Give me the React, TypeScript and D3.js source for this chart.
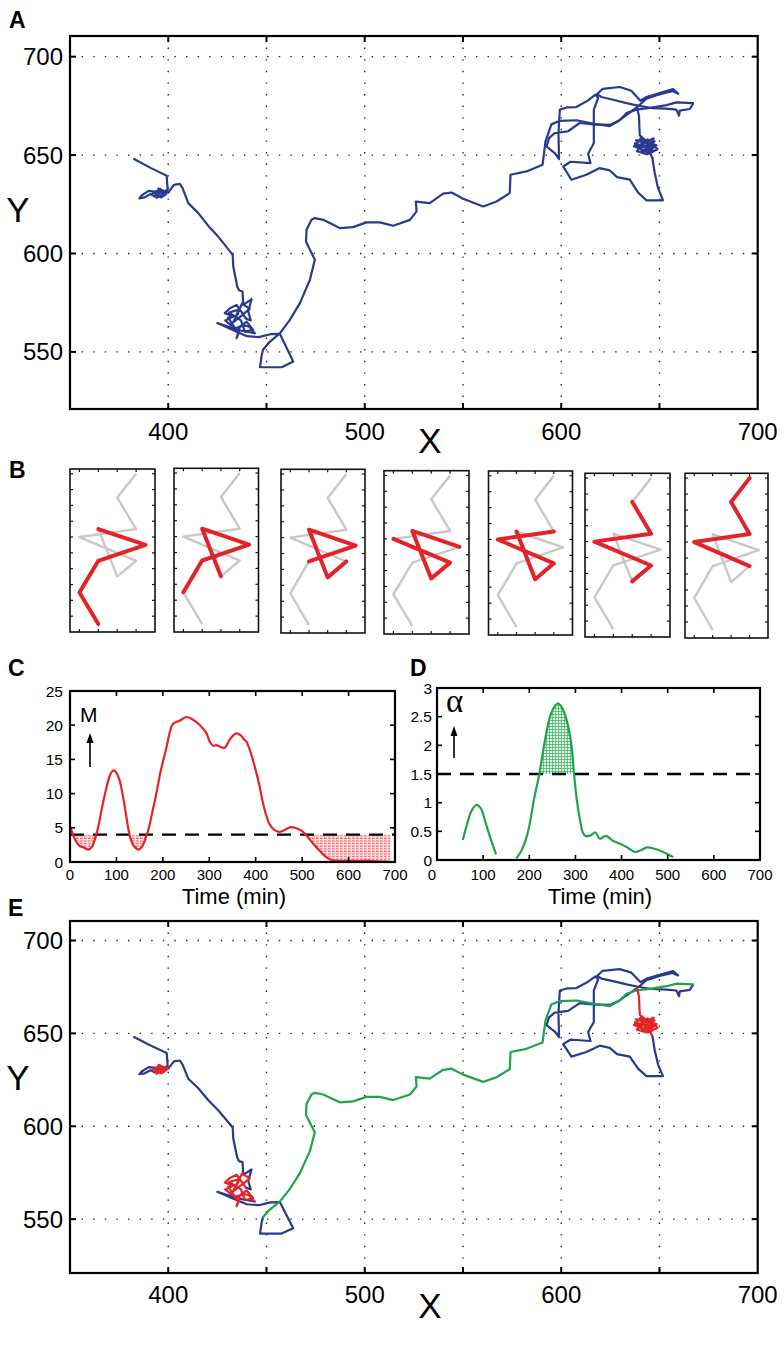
import React from 'react';
import * as d3 from 'd3';

// ---------------- DATA ----------------
// Trajectory pieces (x, y in pixel-units of the microscope field)
const startTrack = [[382.6,648.0],[391,643.5],[399.2,639.5],[399.7,632.4],[397,631],[390,631.8],[386.5,629.5],[385.3,628],[388,628.5],[391,630.2],[393,629]];
const confined1 = [[393,629],[395,631.5],[392,630.5],[396,632.8],[394,628.3],[397.5,630],[395,633],[398.5,631.5],[393.5,629.8],[396.5,628.5],[399,630.2],[397,632],[400,631]];
const track2 = [[400,631],[402.9,634.9],[405.9,635.4],[407.3,633.2],[410.2,625.6],[415.3,620.5],[420.4,614.0],[425.4,608.6],[429.4,603.6],[432.8,599.3],[433.1,593.4],[435.1,583.2],[436.1,581.2],[437.8,580.7],[438.2,573.9],[442.4,576.8],[440.7,570.5],[442,566],[439.5,567]];
const confined2 = [[439.5,567],[434.8,573.9],[431.4,572.2],[428.8,569.7],[433.1,568],[429,566],[432.5,563],[436,560],[434.8,557],[436.5,562.9],[439.9,565.4],[443.2,561.2],[439,560.3],[437,566],[431,570],[436,571.5],[433,565],[438,569],[441.5,572],[437.5,574.5],[435,568.5],[430.5,567.5],[434,562],[438.5,563.5],[441,563],[444,559.5]];
const track3 = [[444,559.5],[436,561],[425,564.7],[432,561.5],[440,558],[446,557.5],[452,559],[456.8,559.2],[463.6,545.1],[457.7,542.2],[446.7,542.2],[447.5,548],[448.3,551.2]];
const directed = [[448.3,551.2],[451.5,555],[456.8,559.4],[461.9,566.3],[467.0,574.8],[472.1,586.6],[474.6,596.8],[470.1,606.1],[470.4,612.1],[472.9,617.1],[474.6,618.0],[478.9,617.1],[484.0,614.6],[487.3,612.9],[494.1,613.4],[500.9,615.8],[507.7,615.8],[514.5,614.1],[523.0,617.1],[526.4,621.4],[526.0,626.4],[533.1,625.6],[539.9,630.4],[544.2,631.0],[550.1,627.8],[560.3,623.9],[567.1,626.4],[573.8,630.7],[574.2,640.0],[582.3,641.7],[590.5,645.1],[592.0,657.0],[595.0,665.6],[599.3,667.4],[607.8,667.7],[616.2,666.0],[624.7,664.7],[629.8,667.7],[633.2,671.3],[638.3,673.1],[645.1,674.0],[653.6,675.4],[658.7,676.8],[667.1,676.4]];
const tangle = [[667.1,676.1],[665.4,673.4],[660.3,672.6],[660.0,670.0],[658.6,673.1],[653.5,673.6],[645.9,673.9],[639.1,675.1],[633.2,676.4],[626.4,678.1],[620.5,679.5],[618.3,681.0],[621.0,683.6],[629.8,684.6],[635.7,682.7],[640.3,677.6],[643.4,679.5],[650.1,681.5],[656.9,683.6],[659.5,681.2],[656.6,682.5],[650.1,680.9],[643.4,678.6],[638.6,674.4],[634.0,671.0],[629.5,667.6],[624.7,665.3],[616.2,665.6],[609.4,666.3],[603.5,662.1],[596.7,661.2],[593.8,658.6],[592.5,654.4],[596.7,651.0],[598.9,648.0],[598.6,661.2],[599.3,673.1],[602.7,674.2],[607.7,674.4],[613.7,677.8],[617.4,680.7],[618.8,679.0],[616.6,673.1],[616.6,656.1],[613.7,650.7],[614.9,645.9],[609.4,646.3],[604.7,646.6],[601.0,644.2],[605.2,637.5],[612.8,640.0],[619.6,643.4],[624.7,642.2],[628.4,638.8],[634.9,637.5],[639.1,631.0],[643.4,627.0],[651.8,627.0],[649.3,633.2],[647.6,640.9],[646.4,648.5]];
const confined3 = [[646.4,648.5],[644.5,652.5],[648.5,655],[641,657.5],[643.5,652],[637,654.5],[640.5,658.5],[646,656.5],[649,653],[644,650.5],[638.5,652],[642,656],[647,658.5],[645.5,653.5],[637.5,656],[643,650.5],[648,654.5],[640,655],[644,658],[646.5,651.5],[639,653.5],[642.5,654.5],[647.5,657],[641.5,651],[645,655.5],[638,657.5],[643.5,657],[640,660],[639.8,664],[639.6,669.6],[638.6,674.4]];

const xGrid = [400, 450, 500, 550, 600, 650];
const yGrid = [550, 600, 650, 700];
const xTickLabels = [400, 500, 600, 700];
const yTickLabels = [550, 600, 650, 700];

// Panel B: short walk shown in every box, red window slides by one step
const walkX = [3, 1, 3, 8, 3, 5, 7, 1, 7, 5, 7];
const walkY = [1, 5, 9, 11, 13, 7, 9, 12, 13, 17, 20];
const windowLen = 5;

// Panel C: M(t)
const mSeries = [[0,5.2],[5,4.3],[10,3.4],[20,2.4],[30,2.1],[40,1.8],[47,2.2],[55,3.6],[62,5.5],[68,7.6],[79,11.0],[88,13.0],[95,13.4],[101,12.9],[107,11.9],[113,10.0],[118,8.1],[124,5.5],[130,3.5],[138,2.3],[148,1.8],[155,2.2],[162,3.3],[170,5.0],[178,7.5],[186,10.0],[195,13.2],[208,16.8],[215,19.0],[222,20.2],[237,20.7],[251,21.2],[265,20.8],[280,20.0],[294,18.8],[301,17.6],[308,17.0],[315,17.1],[322,16.9],[333,16.7],[345,18.0],[358,18.8],[368,18.5],[375,17.9],[380,17.6],[390,15.8],[400,13.4],[408,11.2],[415,8.8],[422,7.0],[430,5.5],[440,4.7],[450,4.4],[460,4.6],[475,5.1],[485,5.0],[500,4.5],[510,3.8],[520,3.0],[530,2.2],[540,1.5],[550,0.8],[560,0.35],[570,0.2],[585,0.15],[600,0.2],[620,0.15],[640,0.2],[660,0.1],[680,0.05],[690,0.0]];
const mThreshold = 4;
const cYTicks = [0, 5, 10, 15, 20, 25];
const timeTicks = [0, 100, 200, 300, 400, 500, 600, 700];

// Panel D: alpha(t), two separate pieces
const alphaPiece1 = [[56,0.35],[65,0.62],[75,0.86],[86,0.96],[95,0.9],[105,0.66],[115,0.4],[128,0.1]];
const alphaPiece2 = [[172,0.03],[184,0.18],[195,0.42],[203,0.72],[210,1.05],[221,1.47],[234,2.09],[245,2.5],[255,2.68],[263,2.73],[272,2.64],[281,2.44],[292,1.97],[297,1.5],[303,1.05],[310,0.7],[316,0.48],[322,0.42],[333,0.43],[343,0.48],[353,0.37],[366,0.42],[382,0.33],[398,0.28],[412,0.22],[429,0.14],[442,0.17],[455,0.22],[470,0.2],[490,0.14],[512,0.05]];
const alphaThreshold = 1.5;
const dYTicks = [0, 0.5, 1, 1.5, 2, 2.5, 3];

// ---------------- STYLE / LAYOUT ----------------
const FONT = '"Liberation Sans", Arial, Helvetica, sans-serif';
const BLUE = '#2b3990';
const RED = '#e3232a';
const GREEN = '#1ea54b';
const GRAY = '#c8c8c8';

const boxLayout = [
  { l: 70, t: 469, r: 155, b: 632 },
  { l: 174, t: 468.3, r: 258.5, b: 632 },
  { l: 281, t: 469.3, r: 365, b: 633 },
  { l: 384, t: 470.7, r: 469, b: 634 },
  { l: 488.5, t: 471, r: 572.5, b: 635 },
  { l: 585, t: 473.3, r: 670, b: 637 },
  { l: 685, t: 473.3, r: 768, b: 638 },
];

function TrackPanel({ T, B, id, colored, xLabelBase, xTitleBase, yTitleBase }: any) {
  const L = 70, R = 757.7;
  const xs = d3.scaleLinear().domain([350, 700]).range([L, R]);
  const ys = d3.scaleLinear().domain([521, 710.5]).range([B, T]);
  const ln = d3.line<number[]>().x(d => xs(d[0])).y(d => ys(d[1]));
  const tracks = [startTrack, track2, track3, tangle];
  const reds = [confined1, confined2, confined3];
  const c = (k: string) => (colored ? k : BLUE);
  return (
    <g>
      <defs>
        <clipPath id={id}><rect x={L} y={T} width={R - L} height={B - T} /></clipPath>
      </defs>
      {xGrid.map(v => (
        <line key={'gx' + v} x1={xs(v)} x2={xs(v)} y1={T} y2={B} stroke="#222" strokeWidth={1.4} strokeDasharray="1.4 10.2" />
      ))}
      {yGrid.map(v => (
        <line key={'gy' + v} x1={L} x2={R} y1={ys(v)} y2={ys(v)} stroke="#222" strokeWidth={1.4} strokeDasharray="1.4 10.2" />
      ))}
      <g clipPath={`url(#${id})`} fill="none" strokeWidth={2.2} strokeLinejoin="round" strokeLinecap="round">
        {tracks.map((p, i) => <path key={'t' + i} d={ln(p as any) || ''} stroke={BLUE} />)}
        <path d={ln(directed as any) || ''} stroke={c(GREEN)} />
        {reds.map((p, i) => <path key={'r' + i} d={ln(p as any) || ''} stroke={c(RED)} />)}
      </g>
      <rect x={L} y={T} width={R - L} height={B - T} fill="none" stroke="#000" strokeWidth={2.2} />
      {xGrid.map(v => (
        <g key={'tx' + v}>
          <line x1={xs(v)} x2={xs(v)} y1={B} y2={B - 6} stroke="#000" strokeWidth={2} />
          <line x1={xs(v)} x2={xs(v)} y1={T} y2={T + 6} stroke="#000" strokeWidth={2} />
        </g>
      ))}
      {yGrid.map(v => (
        <g key={'ty' + v}>
          <line x1={L} x2={L + 6} y1={ys(v)} y2={ys(v)} stroke="#000" strokeWidth={2} />
          <line x1={R} x2={R - 6} y1={ys(v)} y2={ys(v)} stroke="#000" strokeWidth={2} />
        </g>
      ))}
      {xTickLabels.map(v => (
        <text key={'lx' + v} x={xs(v)} y={xLabelBase} textAnchor="middle" fontSize={24} fontFamily={FONT}>{v}</text>
      ))}
      {yTickLabels.map(v => (
        <text key={'ly' + v} x={63} y={ys(v) + 8.5} textAnchor="end" fontSize={24} fontFamily={FONT}>{v}</text>
      ))}
      <text x={430} y={xTitleBase} textAnchor="middle" fontSize={35} fontFamily={FONT}>X</text>
      <text x={18} y={yTitleBase} textAnchor="middle" fontSize={35} fontFamily={FONT}>Y</text>
    </g>
  );
}

function PanelB() {
  const pts = walkX.map((x, i) => [x, walkY[i]]);
  return (
    <g>
      {boxLayout.map((bx, k) => {
        const xs = d3.scaleLinear().domain([0, 9]).range([bx.l, bx.r]);
        const ys = d3.scaleLinear().domain([0, 20.6]).range([bx.b, bx.t]);
        const ln = d3.line<number[]>().x(d => xs(d[0])).y(d => ys(d[1]));
        const win = pts.slice(k, k + windowLen);
        return (
          <g key={'box' + k}>
            <path d={ln(pts as any) || ''} fill="none" stroke={GRAY} strokeWidth={2.4} strokeLinejoin="round" />
            <path d={ln(win as any) || ''} fill="none" stroke={RED} strokeWidth={4} strokeLinejoin="round" strokeLinecap="round" />
            <rect x={bx.l} y={bx.t} width={bx.r - bx.l} height={bx.b - bx.t} fill="none" stroke="#111" strokeWidth={1.6} />
            {[2, 4, 6, 8, 10, 12, 14, 16, 18, 20].map(v => (
              <g key={'by' + v}>
                <line x1={bx.l} x2={bx.l + 3} y1={ys(v)} y2={ys(v)} stroke="#111" strokeWidth={1.2} />
                <line x1={bx.r} x2={bx.r - 3} y1={ys(v)} y2={ys(v)} stroke="#111" strokeWidth={1.2} />
              </g>
            ))}
            {[1, 3, 5, 7].map(v => (
              <g key={'bx' + v}>
                <line x1={xs(v)} x2={xs(v)} y1={bx.b} y2={bx.b - 3} stroke="#111" strokeWidth={1.2} />
                <line x1={xs(v)} x2={xs(v)} y1={bx.t} y2={bx.t + 3} stroke="#111" strokeWidth={1.2} />
              </g>
            ))}
          </g>
        );
      })}
    </g>
  );
}

function Arrow({ x, y1, y2 }: any) {
  return (
    <g>
      <line x1={x} x2={x} y1={y1} y2={y2 + 6} stroke="#000" strokeWidth={1.6} />
      <path d={`M${x},${y2} L${x - 3.5},${y2 + 10} L${x + 3.5},${y2 + 10} Z`} fill="#000" />
    </g>
  );
}

function PanelC() {
  const L = 70, R = 395, T = 691, B = 862;
  const xs = d3.scaleLinear().domain([0, 700]).range([L, R]);
  const ys = d3.scaleLinear().domain([0, 25]).range([B, T]);
  const curve = d3.curveCatmullRom.alpha(0.5);
  const ln = d3.line<number[]>().x(d => xs(d[0])).y(d => ys(d[1])).curve(curve);
  const area = d3.area<number[]>().x(d => xs(d[0])).y0(d => ys(d[1])).y1(() => ys(25)).curve(curve);
  return (
    <g>
      <defs>
        <clipPath id="clipCfill"><rect x={L} y={ys(mThreshold)} width={R - L} height={B - ys(mThreshold)} /></clipPath>
        <pattern id="redDots" width={4} height={2.6} patternUnits="userSpaceOnUse">
          <rect x={0} y={0} width={4} height={2.6} fill="#fbe0e0" />
          <rect x={0} y={0.6} width={2.6} height={1} fill={RED} opacity={0.75} />
        </pattern>
      </defs>
      <path d={area(mSeries as any) || ''} fill="url(#redDots)" clipPath="url(#clipCfill)" />
      <line x1={L} x2={R} y1={ys(mThreshold)} y2={ys(mThreshold)} stroke="#000" strokeWidth={2.4} strokeDasharray="14 9" />
      <path d={ln(mSeries as any) || ''} fill="none" stroke={RED} strokeWidth={2.2} />
      <rect x={L} y={T} width={R - L} height={B - T} fill="none" stroke="#000" strokeWidth={2.2} />
      {timeTicks.slice(1, -1).map(v => (
        <g key={'ct' + v}>
          <line x1={xs(v)} x2={xs(v)} y1={B} y2={B - 5} stroke="#000" strokeWidth={1.6} />
          <line x1={xs(v)} x2={xs(v)} y1={T} y2={T + 5} stroke="#000" strokeWidth={1.6} />
        </g>
      ))}
      {cYTicks.slice(1, -1).map(v => (
        <g key={'cy' + v}>
          <line x1={L} x2={L + 5} y1={ys(v)} y2={ys(v)} stroke="#000" strokeWidth={1.6} />
          <line x1={R} x2={R - 5} y1={ys(v)} y2={ys(v)} stroke="#000" strokeWidth={1.6} />
        </g>
      ))}
      {timeTicks.map(v => (
        <text key={'cl' + v} x={xs(v)} y={880} textAnchor="middle" fontSize={15} fontFamily={FONT}>{v}</text>
      ))}
      {cYTicks.map(v => (
        <text key={'cyl' + v} x={63} y={ys(v) + 5.5} textAnchor="end" fontSize={15.5} fontFamily={FONT}>{v}</text>
      ))}
      <text x={234} y={904} textAnchor="middle" fontSize={22} fontFamily={FONT}>Time (min)</text>
      <text x={80} y={722} fontSize={21} fontFamily={FONT}>M</text>
      <Arrow x={90} y1={767} y2={733} />
    </g>
  );
}

function PanelD() {
  const L = 437, R = 760, T = 688, B = 860;
  const xs = d3.scaleLinear().domain([0, 700]).range([L, R]);
  const ys = d3.scaleLinear().domain([0, 3]).range([B, T]);
  const curve = d3.curveCatmullRom.alpha(0.5);
  const ln = d3.line<number[]>().x(d => xs(d[0])).y(d => ys(d[1])).curve(curve);
  const area = d3.area<number[]>().x(d => xs(d[0])).y0(() => ys(0)).y1(d => ys(d[1])).curve(curve);
  return (
    <g>
      <defs>
        <clipPath id="clipDfill"><rect x={L} y={T} width={R - L} height={ys(alphaThreshold) - T} /></clipPath>
        <pattern id="greenMesh" width={3} height={3} patternUnits="userSpaceOnUse">
          <rect x={0} y={0} width={3} height={3} fill="#e4f4e8" />
          <path d="M0,0.5 H3 M0.5,0 V3" stroke={GREEN} strokeWidth={0.8} opacity={0.8} />
        </pattern>
      </defs>
      <path d={area(alphaPiece2 as any) || ''} fill="url(#greenMesh)" clipPath="url(#clipDfill)" />
      <line x1={L} x2={R} y1={ys(alphaThreshold)} y2={ys(alphaThreshold)} stroke="#000" strokeWidth={2.4} strokeDasharray="14 9" />
      <path d={ln(alphaPiece1 as any) || ''} fill="none" stroke={GREEN} strokeWidth={2.2} />
      <path d={ln(alphaPiece2 as any) || ''} fill="none" stroke={GREEN} strokeWidth={2.2} />
      <rect x={L} y={T} width={R - L} height={B - T} fill="none" stroke="#000" strokeWidth={2.2} />
      {timeTicks.slice(1, -1).map(v => (
        <g key={'dt' + v}>
          <line x1={xs(v)} x2={xs(v)} y1={B} y2={B - 5} stroke="#000" strokeWidth={1.6} />
          <line x1={xs(v)} x2={xs(v)} y1={T} y2={T + 5} stroke="#000" strokeWidth={1.6} />
        </g>
      ))}
      {dYTicks.slice(1, -1).map(v => (
        <g key={'dy' + v}>
          <line x1={L} x2={L + 5} y1={ys(v)} y2={ys(v)} stroke="#000" strokeWidth={1.6} />
          <line x1={R} x2={R - 5} y1={ys(v)} y2={ys(v)} stroke="#000" strokeWidth={1.6} />
        </g>
      ))}
      {timeTicks.map(v => (
        <text key={'dl' + v} x={v === 0 ? xs(v) - 5 : xs(v)} y={880} textAnchor="middle" fontSize={15} fontFamily={FONT}>{v}</text>
      ))}
      {dYTicks.map(v => (
        <text key={'dyl' + v} x={432} y={ys(v) + 5.5} textAnchor="end" fontSize={15.5} fontFamily={FONT}>{v}</text>
      ))}
      <text x={600} y={904} textAnchor="middle" fontSize={22} fontFamily={FONT}>Time (min)</text>
      <text x={446} y={712} fontSize={33} fontFamily='"Liberation Serif", "Times New Roman", serif'>α</text>
      <Arrow x={454} y1={758} y2={726} />
    </g>
  );
}

export default function App() {
  const letter = { fontSize: 23, fontWeight: 700, fontFamily: FONT } as any;
  return (
    <div style={{ position: 'absolute', left: 0, top: 0 }}>
      <svg width={784} height={1352} viewBox="0 0 784 1352" style={{ display: 'block', background: '#fff' }}>
        <rect x={0} y={0} width={784} height={1352} fill="#fff" />
        <text x={9} y={28} {...letter}>A</text>
        <TrackPanel T={36} B={409} id="clipA" colored={false} xLabelBase={440} xTitleBase={453} yTitleBase={222} />
        <text x={9} y={478} {...letter}>B</text>
        <PanelB />
        <text x={8} y={676} {...letter}>C</text>
        <PanelC />
        <text x={410} y={676} {...letter}>D</text>
        <PanelD />
        <text x={8} y={916} {...letter}>E</text>
        <TrackPanel T={921} B={1273} id="clipE" colored={true} xLabelBase={1303} xTitleBase={1318} yTitleBase={1090} />
      </svg>
    </div>
  );
}
